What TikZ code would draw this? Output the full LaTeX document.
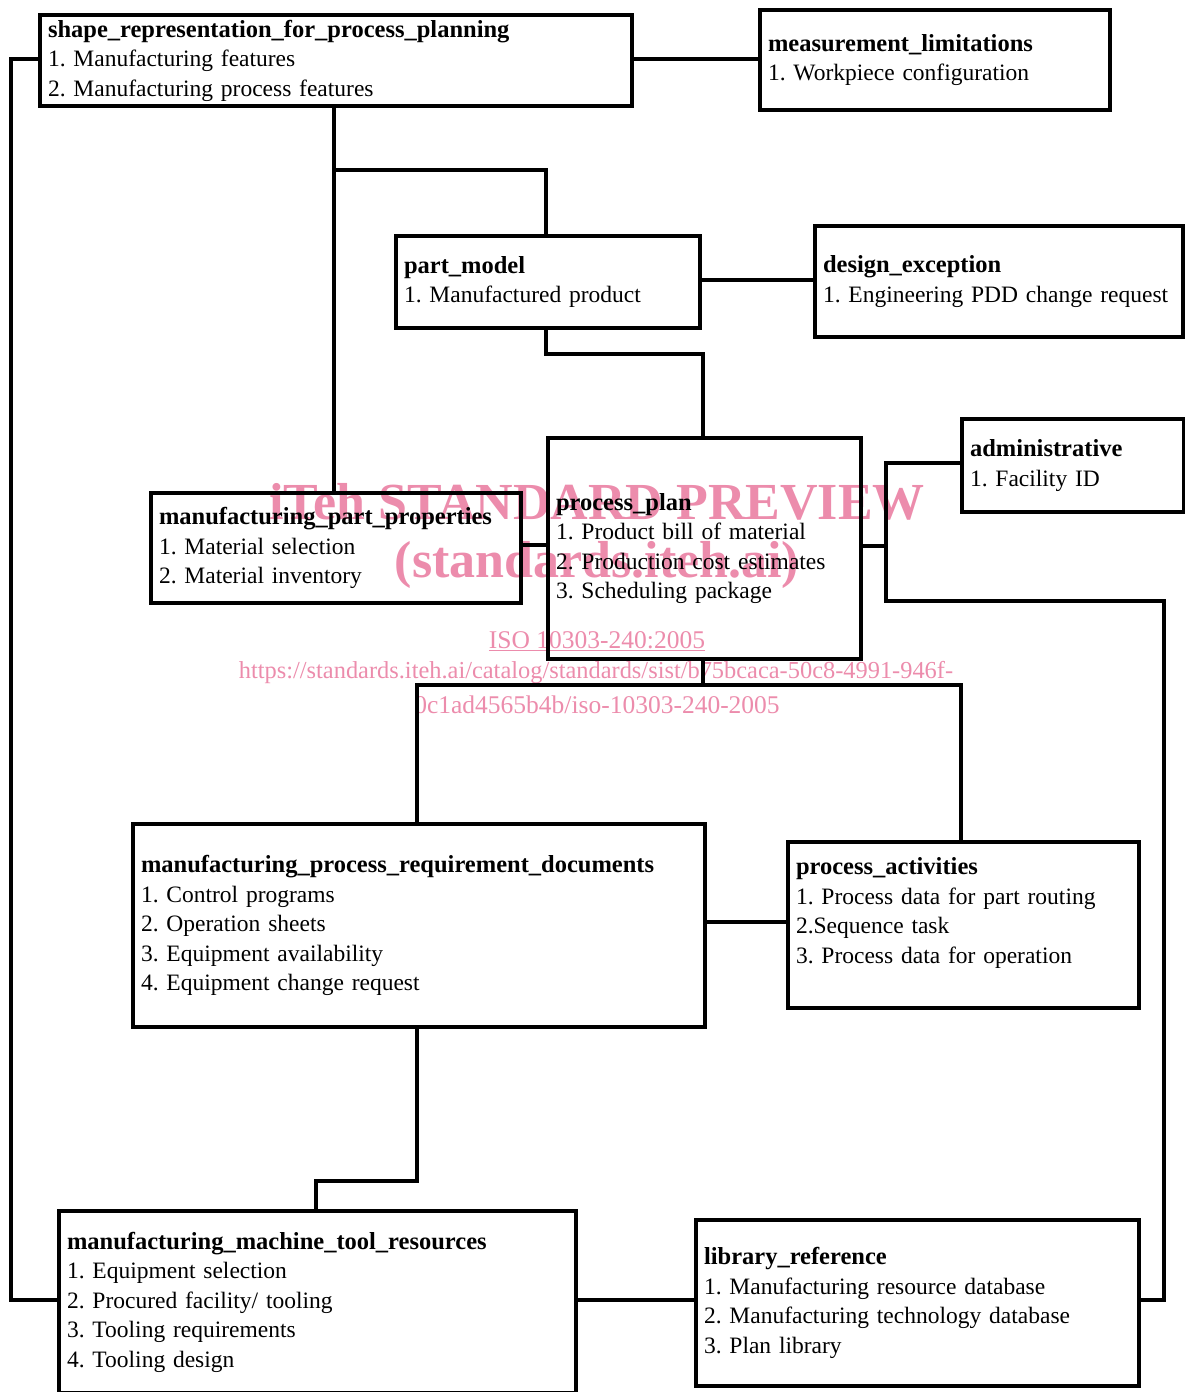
\documentclass[tikz,border=0pt]{standalone}
\usepackage{fontspec}
\setmainfont{Liberation Serif}
\definecolor{wm}{RGB}{236,140,172}
\begin{document}
\frenchspacing
\begin{tikzpicture}[x=1pt,y=1pt,
  box/.style={draw,line width=4pt,anchor=north west,inner xsep=8pt,inner ysep=0pt,align=left,
    font=\fontsize{23.5}{29.5}\selectfont},
  conn/.style={line width=3.5pt},
  wmtext/.style={text=wm,inner sep=0pt}]
\newcommand\ttl[1]{{\fontsize{24.5}{29.5}\selectfont\bfseries #1}}
\useasboundingbox (0,0) rectangle (1184,-1392);
% watermark
\node[wmtext,font=\fontsize{52}{52}\selectfont\bfseries] (wm1) at (597,-502) {iTeh STANDARD PREVIEW};
\node[wmtext,font=\fontsize{52}{52}\selectfont\bfseries] (wm2) at (597,-565) {(standards.iteh.ai)};
\node[wmtext,font=\fontsize{25.5}{26}\selectfont] (wm3) at (597,-641) {\underline{ISO 10303-240:2005}};
\node[wmtext,font=\fontsize{24.4}{26}\selectfont] (wm4) at (596,-673) {https://standards.iteh.ai/catalog/standards/sist/b75bcaca-50c8-4991-946f-};
\node[wmtext,font=\fontsize{25.5}{26}\selectfont] (wm5) at (597,-705) {0c1ad4565b4b/iso-10303-240-2005};
% boxes
\node[box,text width=576pt,minimum height=91pt] (srpp) at (38,-13)
 {\ttl{shape\_representation\_for\_process\_planning}\\1. Manufacturing features\\2. Manufacturing process features};
\node[box,text width=334pt,minimum height=100pt] (ml) at (758,-8)
 {\ttl{measurement\_limitations}\\1. Workpiece configuration};
\node[box,text width=288pt,minimum height=92pt] (pm) at (394,-234)
 {\ttl{part\_model}\\1. Manufactured product};
\node[box,text width=352pt,minimum height=111pt] (de) at (813,-224)
 {\ttl{design\_exception}\\\mbox{1. Engineering PDD change request}};
\node[box,text width=206pt,minimum height=93pt] (adm) at (960,-417)
 {\ttl{administrative}\\1. Facility ID};
\node[box,text width=297pt,minimum height=221pt] (pp) at (546,-436)
 {\ttl{process\_plan}\\1. Product bill of material\\2. Production cost estimates\\3. Scheduling package};
\node[box,text width=354pt,minimum height=110pt] (mpp) at (149,-491)
 {\ttl{manufacturing\_part\_properties}\\1. Material selection\\2. Material inventory};
\node[box,text width=556pt,minimum height=203pt] (mprd) at (131,-822)
 {\ttl{manufacturing\_process\_requirement\_documents}\\1. Control programs\\2. Operation sheets\\3. Equipment availability\\4. Equipment change request};
\node[box,text width=335pt,minimum height=166pt] (pa) at (786,-840)
 {\ttl{process\_activities}\\1. Process data for part routing\\2.Sequence task\\3. Process data for operation\\\mbox{}};
\node[box,text width=501pt,minimum height=182pt] (mmtr) at (57,-1209)
 {\ttl{manufacturing\_machine\_tool\_resources}\\1. Equipment selection\\2. Procured facility/ tooling\\3. Tooling requirements\\4. Tooling design};
\node[box,text width=427pt,minimum height=166pt] (lr) at (694,-1218)
 {\ttl{library\_reference}\\1. Manufacturing resource database\\2. Manufacturing technology database\\3. Plan library};
% connectors
\draw[conn] (srpp.west |- 0,-59) -- (11,-59) -- (11,-1300) -- (mmtr.west |- 0,-1300);
\draw[conn] (srpp.east |- 0,-59) -- (ml.west |- 0,-59);
\draw[conn] (srpp.south -| 334,0) -- (mpp.north -| 334,0);
\draw[conn] (334,-170) -- (546,-170) -- (pm.north -| 546,0);
\draw[conn] (pm.east |- 0,-280) -- (de.west |- 0,-280);
\draw[conn] (pm.south -| 546,0) -- (546,-354) -- (703,-354) -- (pp.north -| 703,0);
\draw[conn] (mpp.east |- 0,-545) -- (pp.west |- 0,-545);
\draw[conn] (pp.east |- 0,-546) -- (886,-546) -- (886,-463) -- (adm.west |- 0,-463);
\draw[conn] (886,-546) -- (886,-601) -- (1164,-601) -- (1164,-1300) -- (lr.east |- 0,-1300);
\draw[conn] (pp.south -| 703,0) -- (703,-685);
\draw[conn] (mprd.north -| 417,0) -- (417,-685) -- (961,-685) -- (pa.north -| 961,0);
\draw[conn] (mprd.east |- 0,-922) -- (pa.west |- 0,-922);
\draw[conn] (mprd.south -| 417,0) -- (417,-1181) -- (316,-1181) -- (mmtr.north -| 316,0);
\draw[conn] (mmtr.east |- 0,-1300) -- (lr.west |- 0,-1300);
\end{tikzpicture}
\end{document}
